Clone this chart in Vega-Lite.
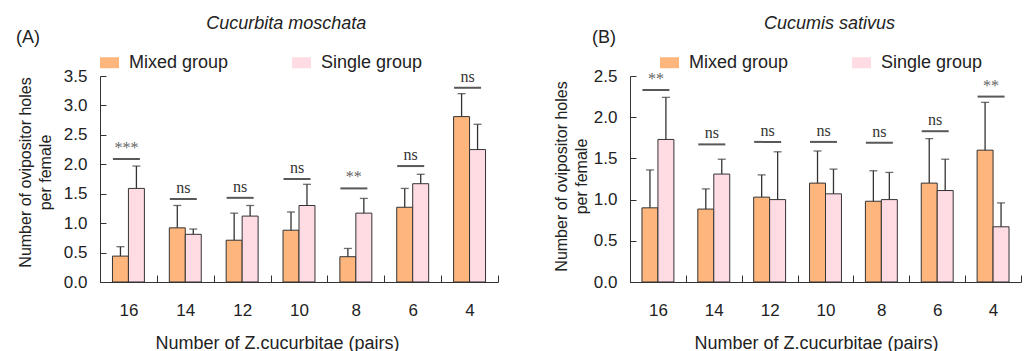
{
  "$schema": "https://vega.github.io/schema/vega-lite/v6.json",
  "padding": {"left": 16, "top": 15, "right": 0, "bottom": 0},
  "background": "white",
  "config": {
    "view": {"stroke": null},
    "font": "Liberation Sans",
    "title": {"font": "Liberation Sans", "fontWeight": "normal", "color": "#222"},
    "axis": {"labelFont": "Liberation Sans", "titleFont": "Liberation Sans", "labelColor": "#222", "titleColor": "#222", "domainColor": "#333", "tickColor": "#333", "grid": false, "titleFontWeight": "normal", "labelOverlap": false}
  },
  "datasets": {
    "barsA": [
      {"pairs": 16, "group": "Mixed group", "mean": 0.44, "upper": 0.60},
      {"pairs": 16, "group": "Single group", "mean": 1.59, "upper": 1.97},
      {"pairs": 14, "group": "Mixed group", "mean": 0.92, "upper": 1.30},
      {"pairs": 14, "group": "Single group", "mean": 0.81, "upper": 0.90},
      {"pairs": 12, "group": "Mixed group", "mean": 0.71, "upper": 1.17},
      {"pairs": 12, "group": "Single group", "mean": 1.12, "upper": 1.30},
      {"pairs": 10, "group": "Mixed group", "mean": 0.88, "upper": 1.19},
      {"pairs": 10, "group": "Single group", "mean": 1.30, "upper": 1.66},
      {"pairs": 8, "group": "Mixed group", "mean": 0.43, "upper": 0.57},
      {"pairs": 8, "group": "Single group", "mean": 1.17, "upper": 1.42},
      {"pairs": 6, "group": "Mixed group", "mean": 1.27, "upper": 1.59},
      {"pairs": 6, "group": "Single group", "mean": 1.67, "upper": 1.83},
      {"pairs": 4, "group": "Mixed group", "mean": 2.81, "upper": 3.20},
      {"pairs": 4, "group": "Single group", "mean": 2.25, "upper": 2.68}
    ],
    "sigA": [
      {"pairs": 16, "level": 2.09, "label": "***"},
      {"pairs": 14, "level": 1.41, "label": "ns"},
      {"pairs": 12, "level": 1.43, "label": "ns"},
      {"pairs": 10, "level": 1.75, "label": "ns"},
      {"pairs": 8, "level": 1.59, "label": "**"},
      {"pairs": 6, "level": 1.97, "label": "ns"},
      {"pairs": 4, "level": 3.30, "label": "ns"}
    ],
    "barsB": [
      {"pairs": 16, "group": "Mixed group", "mean": 0.90, "upper": 1.36},
      {"pairs": 16, "group": "Single group", "mean": 1.73, "upper": 2.24},
      {"pairs": 14, "group": "Mixed group", "mean": 0.885, "upper": 1.13},
      {"pairs": 14, "group": "Single group", "mean": 1.31, "upper": 1.49},
      {"pairs": 12, "group": "Mixed group", "mean": 1.03, "upper": 1.30},
      {"pairs": 12, "group": "Single group", "mean": 1.00, "upper": 1.58},
      {"pairs": 10, "group": "Mixed group", "mean": 1.20, "upper": 1.59},
      {"pairs": 10, "group": "Single group", "mean": 1.07, "upper": 1.37},
      {"pairs": 8, "group": "Mixed group", "mean": 0.98, "upper": 1.35},
      {"pairs": 8, "group": "Single group", "mean": 1.00, "upper": 1.33},
      {"pairs": 6, "group": "Mixed group", "mean": 1.20, "upper": 1.74},
      {"pairs": 6, "group": "Single group", "mean": 1.11, "upper": 1.49},
      {"pairs": 4, "group": "Mixed group", "mean": 1.60, "upper": 2.18},
      {"pairs": 4, "group": "Single group", "mean": 0.67, "upper": 0.96}
    ],
    "sigB": [
      {"pairs": 16, "level": 2.33, "label": "**"},
      {"pairs": 14, "level": 1.67, "label": "ns"},
      {"pairs": 12, "level": 1.70, "label": "ns"},
      {"pairs": 10, "level": 1.70, "label": "ns"},
      {"pairs": 8, "level": 1.69, "label": "ns"},
      {"pairs": 6, "level": 1.83, "label": "ns"},
      {"pairs": 4, "level": 2.25, "label": "**"}
    ]
  },
  "resolve": {"scale": {"color": "independent", "x": "independent", "y": "independent", "xOffset": "independent"}, "legend": {"color": "independent"}},
  "spacing": 54,
  "hconcat": [
    {
      "title": {"text": "Cucurbita moschata", "fontStyle": "italic", "fontSize": 18, "anchor": "middle", "frame": "bounds", "dx": 29, "offset": -4},
      "vconcat": [
        {
          "title": {"text": "(A)", "anchor": "start", "frame": "group", "dx": -84, "fontSize": 18, "offset": 20},
          "width": 398,
          "height": 206,
          "layer": [
            {
              "data": {"name": "barsA"},
              "mark": {"type": "bar", "stroke": "#333", "strokeWidth": 1},
              "encoding": {
                "x": {"field": "pairs", "type": "ordinal", "sort": "descending", "scale": {"paddingInner": 0, "paddingOuter": 0},
                  "axis": {"labelAngle": 0, "tickBand": "extent", "tickSize": -7, "labelFontSize": 17, "labelPadding": 27, "labelDx": -8,
                    "title": "Number of  Z.cucurbitae (pairs)", "titleFontSize": 18, "titlePadding": 16, "titleX": 177}},
                "xOffset": {"field": "group", "type": "nominal", "scale": {"paddingInner": 0, "paddingOuter": 0.78}},
                "y": {"field": "mean", "type": "quantitative", "scale": {"domain": [0, 3.5], "nice": false},
                  "axis": {"values": [0, 0.5, 1, 1.5, 2, 2.5, 3, 3.5], "format": ".1f", "labelOverlap": false, "labelSeparation": 0, "tickSize": -6, "labelPadding": 19, "labelFontSize": 17,
                    "title": ["Number of ovipositor holes", "per female"], "titleFontSize": 16, "titleLineHeight": 20, "titlePadding": 10, "titleY": 96}},
                "color": {"field": "group", "type": "nominal", "scale": {"domain": ["Mixed group", "Single group"], "range": ["#FFB67C", "#FFDCE4"]},
                  "legend": {"orient": "none", "legendX": 0, "legendY": -23, "direction": "horizontal", "title": null, "symbolType": "M-1,-0.58H1V0.58H-1Z", "symbolSize": 361, "symbolStrokeWidth": 0, "symbolOpacity": 1, "labelFontSize": 18, "labelOffset": 10, "columnPadding": 63, "labelColor": "#222", "padding": 0}}
              }
            },
            {
              "data": {"name": "barsA"},
              "mark": {"type": "rule", "color": "#333", "strokeWidth": 1.3},
              "encoding": {
                "x": {"field": "pairs", "type": "ordinal", "sort": "descending"},
                "xOffset": {"field": "group", "type": "nominal"},
                "y": {"field": "mean", "type": "quantitative",
                  "axis": {"values": [0, 0.5, 1, 1.5, 2, 2.5, 3, 3.5], "format": ".1f", "labelOverlap": false, "labelSeparation": 0, "tickSize": -6, "labelPadding": 19, "labelFontSize": 17,
                    "title": ["Number of ovipositor holes", "per female"], "titleFontSize": 16, "titleLineHeight": 20, "titlePadding": 10, "titleY": 96}},
                "y2": {"field": "upper"}
              }
            },
            {
              "data": {"name": "barsA"},
              "mark": {"type": "tick", "color": "#333", "thickness": 1.3, "size": 8, "orient": "horizontal"},
              "encoding": {
                "x": {"field": "pairs", "type": "ordinal", "sort": "descending"},
                "xOffset": {"field": "group", "type": "nominal"},
                "y": {"field": "upper", "type": "quantitative",
                  "axis": {"values": [0, 0.5, 1, 1.5, 2, 2.5, 3, 3.5], "format": ".1f", "labelOverlap": false, "labelSeparation": 0, "tickSize": -6, "labelPadding": 19, "labelFontSize": 17,
                    "title": ["Number of ovipositor holes", "per female"], "titleFontSize": 16, "titleLineHeight": 20, "titlePadding": 10, "titleY": 96}}
              }
            },
            {
              "data": {"name": "sigA"},
              "mark": {"type": "tick", "color": "#111", "thickness": 2, "size": 27, "orient": "horizontal", "xOffset": -2},
              "encoding": {
                "x": {"field": "pairs", "type": "ordinal", "sort": "descending"},
                "y": {"field": "level", "type": "quantitative",
                  "axis": {"values": [0, 0.5, 1, 1.5, 2, 2.5, 3, 3.5], "format": ".1f", "labelOverlap": false, "labelSeparation": 0, "tickSize": -6, "labelPadding": 19, "labelFontSize": 17,
                    "title": ["Number of ovipositor holes", "per female"], "titleFontSize": 16, "titleLineHeight": 20, "titlePadding": 10, "titleY": 96}}
              }
            },
            {
              "data": {"name": "sigA"},
              "mark": {"type": "text", "font": "Liberation Serif", "fontSize": 16, "dy": -6, "baseline": "alphabetic", "xOffset": -2},
              "encoding": {
                "x": {"field": "pairs", "type": "ordinal", "sort": "descending"},
                "y": {"field": "level", "type": "quantitative",
                  "axis": {"values": [0, 0.5, 1, 1.5, 2, 2.5, 3, 3.5], "format": ".1f", "labelOverlap": false, "labelSeparation": 0, "tickSize": -6, "labelPadding": 19, "labelFontSize": 17,
                    "title": ["Number of ovipositor holes", "per female"], "titleFontSize": 16, "titleLineHeight": 20, "titlePadding": 10, "titleY": 96}},
                "text": {"field": "label"},
                "color": {"condition": {"test": "datum.label === 'ns'", "value": "#333"}, "value": "#666"}
              }
            }
          ]
        }
      ]
    },
    {
      "title": {"text": "Cucumis sativus", "fontStyle": "italic", "fontSize": 18, "anchor": "middle", "frame": "bounds", "dx": 42, "offset": -4},
      "vconcat": [
        {
          "title": {"text": "(B)", "anchor": "start", "frame": "group", "dx": -38, "fontSize": 18, "offset": 20},
          "width": 391,
          "height": 206,
          "layer": [
            {
              "data": {"name": "barsB"},
              "mark": {"type": "bar", "stroke": "#333", "strokeWidth": 1},
              "encoding": {
                "x": {"field": "pairs", "type": "ordinal", "sort": "descending", "scale": {"paddingInner": 0, "paddingOuter": 0},
                  "axis": {"labelAngle": 0, "tickBand": "extent", "tickSize": -7, "labelFontSize": 17, "labelPadding": 27, "labelDx": -8,
                    "title": "Number of  Z.cucurbitae (pairs)", "titleFontSize": 18, "titlePadding": 16, "titleX": 186}},
                "xOffset": {"field": "group", "type": "nominal", "scale": {"paddingInner": 0, "paddingOuter": 0.75}},
                "y": {"field": "mean", "type": "quantitative", "scale": {"domain": [0, 2.5], "nice": false},
                  "axis": {"values": [0, 0.5, 1, 1.5, 2, 2.5], "format": ".1f", "labelOverlap": false, "labelSeparation": 0, "tickSize": -6, "labelPadding": 19, "labelFontSize": 17,
                    "title": ["Number of ovipositor holes", "per female"], "titleFontSize": 16, "titleLineHeight": 20, "titlePadding": 4, "titleY": 100}},
                "color": {"field": "group", "type": "nominal", "scale": {"domain": ["Mixed group", "Single group"], "range": ["#FFB67C", "#FFDCE4"]},
                  "legend": {"orient": "none", "legendX": 30, "legendY": -23, "direction": "horizontal", "title": null, "symbolType": "M-1,-0.58H1V0.58H-1Z", "symbolSize": 361, "symbolStrokeWidth": 0, "symbolOpacity": 1, "labelFontSize": 18, "labelOffset": 10, "columnPadding": 63, "labelColor": "#222", "padding": 0}}
              }
            },
            {
              "data": {"name": "barsB"},
              "mark": {"type": "rule", "color": "#333", "strokeWidth": 1.3},
              "encoding": {
                "x": {"field": "pairs", "type": "ordinal", "sort": "descending"},
                "xOffset": {"field": "group", "type": "nominal"},
                "y": {"field": "mean", "type": "quantitative",
                  "axis": {"values": [0, 0.5, 1, 1.5, 2, 2.5], "format": ".1f", "labelOverlap": false, "labelSeparation": 0, "tickSize": -6, "labelPadding": 19, "labelFontSize": 17,
                    "title": ["Number of ovipositor holes", "per female"], "titleFontSize": 16, "titleLineHeight": 20, "titlePadding": 4, "titleY": 100}},
                "y2": {"field": "upper"}
              }
            },
            {
              "data": {"name": "barsB"},
              "mark": {"type": "tick", "color": "#333", "thickness": 1.3, "size": 8, "orient": "horizontal"},
              "encoding": {
                "x": {"field": "pairs", "type": "ordinal", "sort": "descending"},
                "xOffset": {"field": "group", "type": "nominal"},
                "y": {"field": "upper", "type": "quantitative",
                  "axis": {"values": [0, 0.5, 1, 1.5, 2, 2.5], "format": ".1f", "labelOverlap": false, "labelSeparation": 0, "tickSize": -6, "labelPadding": 19, "labelFontSize": 17,
                    "title": ["Number of ovipositor holes", "per female"], "titleFontSize": 16, "titleLineHeight": 20, "titlePadding": 4, "titleY": 100}}
              }
            },
            {
              "data": {"name": "sigB"},
              "mark": {"type": "tick", "color": "#111", "thickness": 2, "size": 27, "orient": "horizontal", "xOffset": -2},
              "encoding": {
                "x": {"field": "pairs", "type": "ordinal", "sort": "descending"},
                "y": {"field": "level", "type": "quantitative",
                  "axis": {"values": [0, 0.5, 1, 1.5, 2, 2.5], "format": ".1f", "labelOverlap": false, "labelSeparation": 0, "tickSize": -6, "labelPadding": 19, "labelFontSize": 17,
                    "title": ["Number of ovipositor holes", "per female"], "titleFontSize": 16, "titleLineHeight": 20, "titlePadding": 4, "titleY": 100}}
              }
            },
            {
              "data": {"name": "sigB"},
              "mark": {"type": "text", "font": "Liberation Serif", "fontSize": 16, "dy": -6, "baseline": "alphabetic", "xOffset": -2},
              "encoding": {
                "x": {"field": "pairs", "type": "ordinal", "sort": "descending"},
                "y": {"field": "level", "type": "quantitative",
                  "axis": {"values": [0, 0.5, 1, 1.5, 2, 2.5], "format": ".1f", "labelOverlap": false, "labelSeparation": 0, "tickSize": -6, "labelPadding": 19, "labelFontSize": 17,
                    "title": ["Number of ovipositor holes", "per female"], "titleFontSize": 16, "titleLineHeight": 20, "titlePadding": 4, "titleY": 100}},
                "text": {"field": "label"},
                "color": {"condition": {"test": "datum.label === 'ns'", "value": "#333"}, "value": "#666"}
              }
            }
          ]
        }
      ]
    }
  ]
}
